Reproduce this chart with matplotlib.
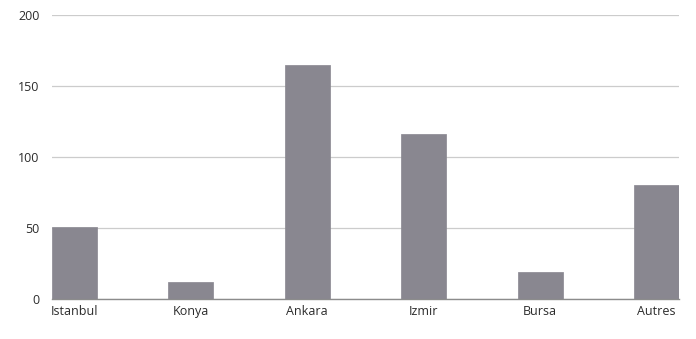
import matplotlib.pyplot as plt
import numpy as np

# data
cities = ['Istanbul', 'Konya', 'Ankara', 'Izmir', 'Bursa', 'Autres']
values = [51, 12, 165, 116, 19, 80]
y_ticks = [0, 50, 100, 150, 200]

plt.rcParams['font.family'] = ['Open Sans', 'DejaVu Sans']

fig = plt.figure(figsize=(6.96, 3.39), dpi=100)
ax = fig.add_axes([52 / 696, 40 / 339, 627 / 696, 284 / 339])

bar_w = 0.385
x = np.arange(len(cities))
ax.bar(x, values, width=bar_w, color='#898790', edgecolor='#898790',
       linewidth=0.5, joinstyle='round', zorder=3)

ax.set_xlim(-bar_w / 2, len(cities) - 1 + bar_w / 2)
ax.set_ylim(0, 200)
ax.set_yticks(y_ticks)
ax.set_xticks(x)
ax.set_xticklabels(cities)

ax.yaxis.grid(True, color='#cccccc', linewidth=0.9, zorder=0)
ax.set_axisbelow(True)

for s in ['top', 'right', 'left']:
    ax.spines[s].set_visible(False)
ax.spines['bottom'].set_color('#8c8c8c')
ax.spines['bottom'].set_linewidth(1.0)
ax.spines['bottom'].set_zorder(4)

ax.tick_params(axis='both', length=0, labelsize=9, labelcolor='#2b2b2b')
ax.tick_params(axis='y', pad=9)
ax.tick_params(axis='x', pad=4)

fig.savefig('out.png', dpi=100)
